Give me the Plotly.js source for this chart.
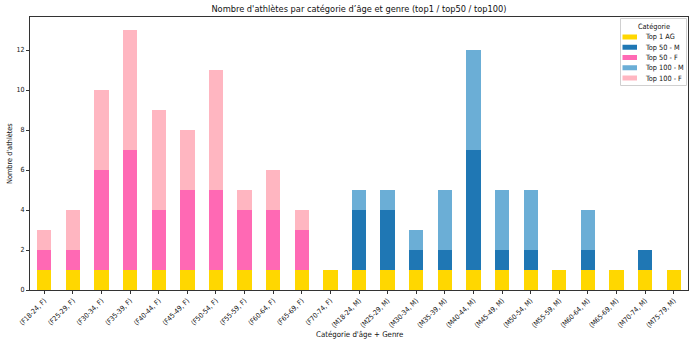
<!DOCTYPE html>
<html><head><meta charset="utf-8">
<script src="https://cdn.plot.ly/plotly-3.0.1.min.js"></script>
<style>html,body{margin:0;padding:0;background:#fff}#c{width:690px;height:341px}</style>
</head><body><div id="c"></div>
<script>
const categories = ["(F18-24, F)","(F25-29, F)","(F30-34, F)","(F35-39, F)","(F40-44, F)","(F45-49, F)","(F50-54, F)","(F55-59, F)","(F60-64, F)","(F65-69, F)","(F70-74, F)","(M18-24, M)","(M25-29, M)","(M30-34, M)","(M35-39, M)","(M40-44, M)","(M45-49, M)","(M50-54, M)","(M55-59, M)","(M60-64, M)","(M65-69, M)","(M70-74, M)","(M75-79, M)"];
const top1AG   = [1,1,1,1,1,1,1,1,1,1,1, 1,1,1,1,1,1,1,1,1,1,1,1];
const top50M   = [0,0,0,0,0,0,0,0,0,0,0, 3,3,1,1,6,1,1,0,1,0,1,0];
const top50F   = [1,1,5,6,3,4,4,3,3,2,0, 0,0,0,0,0,0,0,0,0,0,0,0];
const top100M  = [0,0,0,0,0,0,0,0,0,0,0, 1,1,1,3,5,3,3,0,2,0,0,0];
const top100F  = [1,2,4,6,5,3,6,1,2,1,0, 0,0,0,0,0,0,0,0,0,0,0,0];
const yTicks = [0,2,4,6,8,10,12];
const seriesNames = ["Top 1 AG","Top 50 - M","Top 50 - F","Top 100 - M","Top 100 - F"];
const seriesColors = ["#FFD700","#1f77b4","#FF69B4","#6baed6","#FFB6C1"];
const seriesData = [top1AG, top50M, top50F, top100M, top100F];

const W = 690, H = 341, L = 30, R = 2, T = 17, B = 51;
const PW = W - L - R, PH = H - T - B;
const px = v => (v - L) / PW;
const py = v => (H - B - v) / PH;

const xIdx = categories.map((_, i) => i);
const traces = seriesData.map((d, k) => ({
  type: "bar", x: xIdx, y: d, name: seriesNames[k],
  marker: {color: seriesColors[k], line: {width: 0}}, width: 0.5
}));
const font = {family: "DejaVu Sans Condensed, DejaVu Sans, sans-serif", color: "#111"};
const f = s => Object.assign({size: s}, font);

const shapes = [{
  type: "rect", xref: "paper", yref: "paper",
  x0: px(620.5), x1: px(686.5), y0: py(85.5), y1: py(18.5),
  fillcolor: "rgba(255,255,255,0.85)", line: {color: "#d0d0d0", width: 1}
}];
const annotations = [
  {text: "Catégorie", xref: "paper", yref: "paper", x: px(653.5), y: py(26.5), xanchor: "center", yanchor: "middle", showarrow: false, font: f(7.3)},
  {text: "Catégorie d'âge + Genre", xref: "paper", yref: "paper", x: px(359), y: py(334.5), xanchor: "center", yanchor: "middle", showarrow: false, font: f(7.8)},
  {text: "Nombre d'athlètes", xref: "paper", yref: "paper", x: px(9.5), y: py(153.5), xanchor: "center", yanchor: "middle", showarrow: false, textangle: -90, font: f(7.3)}
];
seriesNames.forEach((n, k) => {
  const yc = 37 + k * 10.25;
  shapes.push({type: "rect", xref: "paper", yref: "paper", x0: px(622.5), x1: px(637), y0: py(yc + 2.5), y1: py(yc - 2.5), fillcolor: seriesColors[k], line: {width: 0}});
  annotations.push({text: n, xref: "paper", yref: "paper", x: px(642.5), y: py(yc), xanchor: "left", yanchor: "middle", showarrow: false, font: f(7.3)});
});

Plotly.newPlot("c", traces, {
  width: W, height: H,
  barmode: "stack", showlegend: false,
  paper_bgcolor: "#fff", plot_bgcolor: "#fff",
  margin: {l: L, r: R, t: T, b: B},
  font: f(7),
  title: {text: "Nombre d'athlètes par catégorie d’âge et genre (top1 / top50 / top100)", font: f(9.2), x: px(359), xanchor: "center", y: 1 - 8.5 / H, yanchor: "middle", xref: "paper"},
  xaxis: {
    range: [-0.5, 22.5], tickmode: "array", tickvals: xIdx, ticktext: categories,
    tickangle: -45, ticks: "outside", ticklen: 3, tickcolor: "#333",
    showline: true, linecolor: "#333", linewidth: 1, mirror: true,
    showgrid: false, zeroline: false, tickfont: f(7)
  },
  yaxis: {
    range: [0, 13.65], tickmode: "array", tickvals: yTicks,
    ticks: "outside", ticklen: 3, tickcolor: "#333",
    showline: true, linecolor: "#333", linewidth: 1, mirror: true,
    showgrid: false, zeroline: false, tickfont: f(7)
  },
  shapes: shapes,
  annotations: annotations
}, {staticPlot: true});
</script></body></html>
